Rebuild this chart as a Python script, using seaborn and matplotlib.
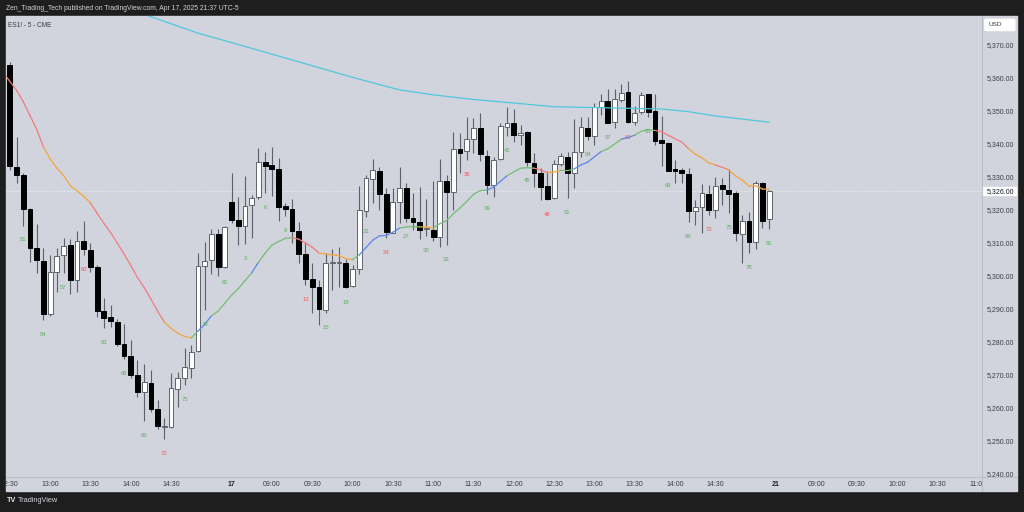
import bisect
import numpy as np
import pandas as pd
import matplotlib
matplotlib.use('Agg')
import matplotlib.pyplot as plt
import seaborn as sns
from matplotlib.collections import LineCollection
from matplotlib.patches import Rectangle, FancyBboxPatch
from matplotlib.lines import Line2D

# ES1! 5 min candles, Apr 16 12:30 -> Apr 17 15:10 (RTH only)
open_ = [5364.2, 5333.2, 5330.9, 5320.6, 5308.7, 5304.8, 5288.8, 5301.4, 5306.6, 5309.6,
         5299.0, 5310.8, 5308.3, 5303.0, 5289.6, 5287.9, 5286.5, 5279.8, 5276.1, 5270.3,
         5265.2, 5267.8, 5259.9, 5254.6, 5254.5, 5266.0, 5269.5, 5272.5, 5277.6, 5303.4,
         5305.2, 5313.0, 5303.0, 5322.6, 5317.2, 5315.4, 5321.8, 5324.2, 5334.8, 5333.8,
         5332.6, 5321.6, 5320.5, 5314.0, 5306.9, 5299.3, 5297.1, 5290.0, 5304.2, 5304.1,
         5304.2, 5297.3, 5302.3, 5320.1, 5329.6, 5332.2, 5325.1, 5313.4, 5322.8, 5326.9,
         5318.0, 5316.6, 5314.4, 5314.2, 5312.0, 5329.1, 5325.8, 5338.7, 5338.2, 5341.8,
         5345.1, 5336.8, 5327.9, 5335.7, 5345.4, 5346.6, 5343.0, 5343.8, 5334.6, 5331.4,
         5327.6, 5323.8, 5334.2, 5336.3, 5331.4, 5337.8, 5345.1, 5342.8, 5351.6, 5353.3,
         5347.1, 5353.6, 5356.0, 5347.1, 5349.9, 5355.5, 5350.3, 5341.5, 5340.5, 5332.7,
         5332.4, 5331.1, 5320.1, 5321.3, 5325.1, 5320.3, 5327.9, 5326.4, 5325.4, 5313.0,
         5317.1, 5310.7, 5328.4, 5317.5]
high = [5365.2, 5342.3, 5331.4, 5321.0, 5316.0, 5308.7, 5306.7, 5308.7, 5311.7, 5311.5,
        5314.0, 5317.0, 5310.2, 5303.6, 5293.5, 5291.5, 5287.2, 5285.9, 5280.9, 5274.8,
        5273.6, 5271.8, 5262.7, 5257.2, 5271.0, 5271.3, 5278.6, 5279.4, 5307.2, 5310.7,
        5314.5, 5314.5, 5315.5, 5331.4, 5324.2, 5330.6, 5324.8, 5339.0, 5338.0, 5339.5,
        5336.0, 5322.3, 5323.6, 5316.8, 5310.7, 5304.2, 5299.1, 5307.2, 5308.4, 5309.2,
        5305.4, 5303.6, 5327.6, 5330.9, 5335.7, 5333.2, 5326.9, 5326.9, 5333.2, 5328.4,
        5325.5, 5327.4, 5323.5, 5329.2, 5335.7, 5330.9, 5343.8, 5343.5, 5348.4, 5348.1,
        5349.8, 5338.5, 5336.5, 5346.8, 5351.4, 5350.8, 5346.1, 5344.2, 5337.5, 5333.0,
        5332.1, 5335.5, 5337.5, 5338.0, 5347.8, 5348.6, 5348.6, 5352.6, 5355.5, 5356.9,
        5357.0, 5358.5, 5359.4, 5351.8, 5356.0, 5355.5, 5355.4, 5348.8, 5341.0, 5335.5,
        5332.9, 5332.9, 5323.3, 5328.2, 5328.0, 5330.2, 5329.9, 5332.6, 5326.0, 5318.8,
        5319.8, 5329.1, 5328.7, 5326.4]
low = [5332.4, 5328.4, 5315.6, 5304.6, 5301.1, 5287.1, 5288.3, 5295.4, 5301.2, 5294.8,
       5295.4, 5306.7, 5301.4, 5287.8, 5284.5, 5284.8, 5279.1, 5275.0, 5269.3, 5263.7,
       5256.4, 5259.2, 5253.8, 5250.8, 5254.3, 5260.5, 5267.4, 5269.3, 5277.3, 5290.1,
       5300.9, 5300.4, 5302.7, 5316.5, 5309.7, 5310.0, 5311.7, 5323.5, 5325.4, 5324.6,
       5317.1, 5318.4, 5310.4, 5304.2, 5297.5, 5289.2, 5285.5, 5289.0, 5296.0, 5297.1,
       5296.8, 5297.1, 5300.9, 5318.2, 5322.3, 5320.3, 5311.7, 5313.2, 5316.3, 5316.7,
       5314.2, 5311.4, 5312.5, 5311.0, 5309.0, 5309.8, 5320.3, 5331.6, 5335.4, 5337.5,
       5335.0, 5325.2, 5324.3, 5335.5, 5342.6, 5341.0, 5340.0, 5333.5, 5327.2, 5323.3,
       5323.2, 5323.6, 5333.5, 5324.0, 5327.0, 5336.5, 5341.5, 5340.0, 5349.1, 5346.7,
       5345.1, 5353.0, 5346.8, 5346.0, 5349.5, 5348.5, 5340.0, 5333.6, 5332.1, 5328.4,
       5328.4, 5316.7, 5315.8, 5313.4, 5318.8, 5318.0, 5321.8, 5319.3, 5311.0, 5304.2,
       5307.2, 5308.4, 5314.8, 5314.5]
close = [5333.6, 5330.8, 5320.7, 5308.7, 5305.0, 5288.8, 5301.4, 5306.5, 5309.3, 5299.0,
         5311.0, 5308.6, 5302.9, 5289.8, 5287.5, 5286.8, 5279.7, 5276.1, 5270.3, 5265.0,
         5268.1, 5260.0, 5254.8, 5254.8, 5266.3, 5269.3, 5272.8, 5277.2, 5303.3, 5304.9,
         5312.9, 5303.0, 5315.2, 5317.3, 5315.4, 5321.6, 5324.0, 5334.8, 5333.7, 5332.6,
         5321.3, 5320.5, 5314.0, 5307.1, 5299.5, 5296.9, 5290.2, 5304.2, 5304.3, 5304.2,
         5297.1, 5302.3, 5320.3, 5329.9, 5332.4, 5325.1, 5313.7, 5322.8, 5326.9, 5318.0,
         5316.8, 5314.2, 5314.4, 5312.0, 5329.1, 5325.8, 5338.8, 5337.7, 5341.8, 5345.1,
         5337.2, 5327.9, 5335.5, 5345.8, 5346.6, 5343.0, 5343.5, 5334.8, 5331.6, 5327.4,
         5323.5, 5334.2, 5336.7, 5331.6, 5337.8, 5345.4, 5342.8, 5351.6, 5353.3, 5346.8,
         5353.8, 5355.9, 5347.1, 5349.8, 5355.2, 5350.1, 5341.3, 5340.5, 5332.2, 5332.2,
         5331.4, 5320.1, 5321.3, 5325.4, 5320.3, 5327.7, 5326.6, 5325.1, 5313.4, 5317.1,
         5310.7, 5328.4, 5317.1, 5326.0]
last_price = 5326.00
ema_seed = 5362.0

# colour state of the fast average: starts at bar index
ema_state_from = [-1, 4.9, 11.9, 22.8, 26.8, 28.3, 30.5, 35.8, 37.5, 41.7, 46.2, 50.9,
                  52.4, 58.0, 61.0, 63.3, 71.0, 74.4, 77.9, 80.0, 82.3, 84.4, 88.3, 90.8,
                  93.3, 96.3, 100.8, 104.6, 107.2]
ema_state = ['dn', 'dn_slow', 'dn', 'dn_slow', 'up_slow', 'up', 'up_slow', 'up', 'up_slow',
             'dn', 'dn_slow', 'up_slow', 'up', 'up_slow', 'dn_slow', 'up_slow', 'up',
             'up_slow', 'dn', 'dn_slow', 'up_slow', 'up', 'up_slow', 'up', 'up_slow', 'dn',
             'dn_slow', 'dn', 'dn_slow']

# slow (cyan) average at some bars
slow_bar = [14, 20, 28, 36, 43, 51, 58, 63, 69, 74, 81, 88, 97, 101, 105, 113]
slow_val = [5383.5, 5379.6, 5373.9, 5369.3, 5365.2, 5360.5, 5356.7, 5355.2, 5353.8,
            5352.9, 5351.6, 5351.3, 5350.9, 5350.1, 5348.8, 5346.9]

# time axis: bar index -> label
tick_bar = [0, 6, 12, 18, 24, 33, 39, 45, 51, 57, 63, 69, 75, 81, 87, 93, 99, 105,
            114, 120, 126, 132, 138, 144]
tick_txt = ['12:30', '13:00', '13:30', '14:00', '14:30', '17', '09:00', '09:30', '10:00',
            '10:30', '11:00', '11:30', '12:00', '12:30', '13:00', '13:30', '14:00', '14:30',
            '21', '09:00', '09:30', '10:00', '10:30', '11:00']
price_ticks = list(range(5240, 5371, 10))
first_bar_no = 49      # 12:30 is bar 49 of the session
day_len = 81

DARK = '#1e1e1e'
BG = '#d1d4dc'
SEP = '#bcbfc7'
TXT = '#3a3d45'
WICK = '#5d606b'
CYAN = '#4fc8dc'
GREEN = '#5fae62'
RED = '#f0585a'
STATE_COL = {'dn': '#f47a7c', 'dn_slow': '#f3a63c', 'up': '#5b86f0', 'up_slow': '#72bf72'}
W, H = 1024, 512

sns.set_theme(style='white')
plt.rcParams['font.family'] = ['Liberation Sans', 'DejaVu Sans']

o = np.array(open_); h = np.array(high); l = np.array(low); c = np.array(close)
ks = np.arange(len(c))

fig = plt.figure(figsize=(W / 100, H / 100), dpi=100, facecolor=DARK)


def rect(x0, y0, x1, y1):
    return [x0 / W, 1 - y1 / H, (x1 - x0) / W, (y1 - y0) / H]


fig.patches.append(Rectangle((6 / W, 1 - 491 / H), (1017 - 6) / W, (491 - 16) / H,
                             transform=fig.transFigure, color=BG, zorder=-5))

# pixel mapping of the original screen
x_of_bar0, px_bar = 9.8, 6.72
y_ref, p_ref, px_pt = 46.0, 5370.0, 3.3
xlim = ((6 - x_of_bar0) / px_bar, (982 - x_of_bar0) / px_bar)
ylim = (p_ref - (477 - y_ref) / px_pt, p_ref + (y_ref - 16) / px_pt)

ax = fig.add_axes(rect(6, 16, 982, 477))
ax.set_facecolor(BG)
ax.set_xlim(*xlim)
ax.set_ylim(*ylim)
for s in ax.spines.values():
    s.set_visible(False)
ax.set_xticks([]); ax.set_yticks([])

# last price dotted line
ax.axhline(last_price, color='#f4f5f8', lw=0.7, ls=(0, (1, 2)), zorder=0.5)

# candles
up = c >= o
ax.vlines(ks, l, h, color=WICK, lw=0.8, zorder=1)
bot = np.minimum(o, c)
hgt = np.maximum(np.abs(c - o), 0.3)
ax.bar(ks[up], hgt[up], bottom=bot[up], width=0.72, color='white',
       edgecolor='#60636b', linewidth=0.7, zorder=2)
ax.bar(ks[~up], hgt[~up], bottom=bot[~up], width=0.72, color='black',
       edgecolor='black', linewidth=0.7, zorder=2)

# fast EMA (20) of the closes, coloured by the state
ema = pd.Series([ema_seed] + close).ewm(span=20, adjust=False).mean().to_numpy()
ex = np.arange(-1, len(c))
segs, cols = [], []
for i in range(len(ex) - 1):
    mid = (ex[i] + ex[i + 1]) / 2
    st = ema_state[bisect.bisect_right(ema_state_from, mid) - 1]
    segs.append([(ex[i], ema[i]), (ex[i + 1], ema[i + 1])])
    cols.append(STATE_COL[st])
ax.add_collection(LineCollection(segs, colors=cols, linewidths=0.9, zorder=3,
                                 capstyle='round'))

# slow average
sns.lineplot(x=slow_bar, y=slow_val, ax=ax, color=CYAN, lw=0.9, zorder=3)
ax.set_xlim(*xlim); ax.set_ylim(*ylim)
ax.set_xlabel(''); ax.set_ylabel('')

# bar count labels
for k in ks:
    n = k + first_bar_no if k + first_bar_no <= day_len else k + first_bar_no - day_len
    if n % 3 == 0:
        ax.annotate(str(n), (k, l[k]), xytext=(0, -10.4), textcoords='offset points',
                    ha='center', va='center', fontsize=4.3,
                    color=RED if n % 12 == 0 else GREEN, zorder=4)

ax.text(2 / 976, 1 - 6 / 461, 'ES1! - 5 - CME', transform=ax.transAxes, fontsize=4.7,
        color=TXT, ha='left', va='top')

# time axis
ax_t = fig.add_axes(rect(6, 477, 982, 491))
ax_t.set_xlim(*xlim); ax_t.set_ylim(0, 1)
ax_t.axis('off')
for k, t in zip(tick_bar, tick_txt):
    bold = t in ('17', '21')
    ax_t.text(k, 0.5, t, ha='center', va='center', fontsize=5,
              color='#1e2026' if bold else TXT, fontweight='bold' if bold else 'normal',
              clip_on=True)

# price axis
ax_p = fig.add_axes(rect(982, 16, 1017, 477))
ax_p.set_xlim(0, 1); ax_p.set_ylim(*ylim)
ax_p.axis('off')
for p in price_ticks:
    ax_p.text(0.52, p, f'{p:,.2f}', ha='center', va='center', fontsize=5, color=TXT,
              clip_on=True)
ax_p.add_patch(Rectangle((0.02, last_price - 1.25), 0.96, 2.5, color='white', zorder=3))
ax_p.text(0.52, last_price, f'{last_price:,.2f}', ha='center', va='center', fontsize=5,
          color='#131722', zorder=4)
ax_p.add_patch(FancyBboxPatch((0.08, ylim[1] - 4.4), 0.86, 3.4,
                              boxstyle='round,pad=0,rounding_size=0.06',
                              mutation_aspect=4, color='white', zorder=3))
ax_p.text(0.18, ylim[1] - 2.7, 'USD', ha='left', va='center', fontsize=4.6,
          color=TXT, zorder=4)

# separators
fig.lines.append(Line2D([982 / W, 982 / W], [1 - 16 / H, 1 - 491 / H],
                        transform=fig.transFigure, color=SEP, lw=0.8))
fig.lines.append(Line2D([6 / W, 1017 / W], [1 - 477 / H, 1 - 477 / H],
                        transform=fig.transFigure, color=SEP, lw=0.8))

# header / footer
fig.text(6 / W, 1 - 8 / H, 'Zen_Trading_Tech published on TradingView.com, Apr 17, 2025 21:37 UTC-5',
         fontsize=4.85, color='#d1d4dc', ha='left', va='center')
fig.text(7 / W, 1 - 501 / H, 'TV', fontsize=5.2, fontweight='bold', color='#e6e8ee',
         ha='left', va='center')
fig.text(18 / W, 1 - 501 / H, 'TradingView', fontsize=5.3, color='#d1d4dc',
         ha='left', va='center')

fig.savefig('out.png', dpi=100, facecolor=DARK)
